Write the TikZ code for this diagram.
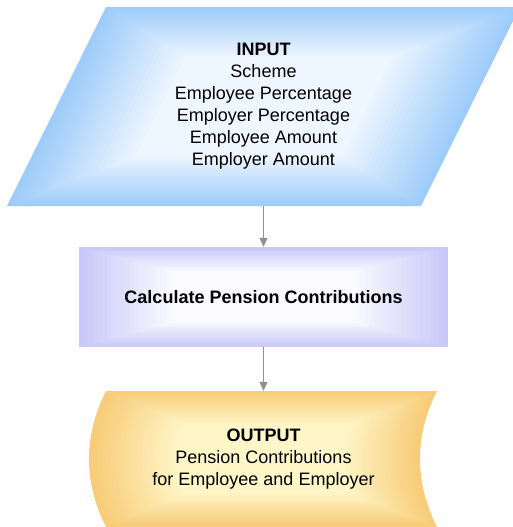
\documentclass[tikz,border=0pt]{standalone}
\usepackage{fontspec}
\setmainfont{Liberation Sans}
\usetikzlibrary{arrows.meta}
\definecolor{inedge}{RGB}{158,204,250}
\definecolor{incore}{RGB}{238,246,255}
\definecolor{calcedge}{RGB}{200,200,250}
\definecolor{calccore}{RGB}{250,250,255}
\definecolor{outedge}{RGB}{248,204,120}
\definecolor{outcore}{RGB}{255,246,200}
\definecolor{flowgray}{RGB}{145,145,145}
\begin{document}
\begin{tikzpicture}[x=1pt,y=-1pt,line join=round,
  txt/.style={inner sep=0pt,align=center,font=\fontsize{18}{22}\selectfont},
  flow/.style={draw=flowgray,line width=1pt,-{Triangle[width=8pt,length=9pt]}}]
\useasboundingbox (0,0) rectangle (513,527);
\clip (0,0) rectangle (513,527);
\foreach \i [evaluate=\i as \s using 1-.025*\i,evaluate=\i as \p using int(5*\i)] in {0,...,20}{
\fill[incore!\p!inedge,scale around={\s:(263.5,106.5)}](106,7)--(520,7)--(421,206)--(7,206)--cycle;
\fill[calccore!\p!calcedge,scale around={\s:(263.5,297)}](79,247)rectangle(448,347);
\fill[outcore!\p!outedge,scale around={\s:(263.5,459)}](106,391)--(437,391)..controls(414.3,436)and(414.3,482)..(437,527)--(106,527)..controls(83.3,482)and(83.3,436)..(106,391)--cycle;
}
\node[txt,minimum height=199pt] (in) at (263.5,106.5) {\textbf{INPUT}\\Scheme\\Employee Percentage\\Employer Percentage\\Employee Amount\\Employer Amount};
\node[txt,minimum width=369pt,minimum height=100pt,font=\fontsize{18}{22}\selectfont\bfseries] (calc) at (263.5,297) {Calculate Pension Contributions};
\node[txt,minimum height=136pt] (out) at (263.5,459) {\textbf{OUTPUT}\\Pension Contributions\\for Employee and Employer};
\draw[flow] (in) -- (calc);
\draw[flow] (calc) -- (out);
\end{tikzpicture}
\end{document}
